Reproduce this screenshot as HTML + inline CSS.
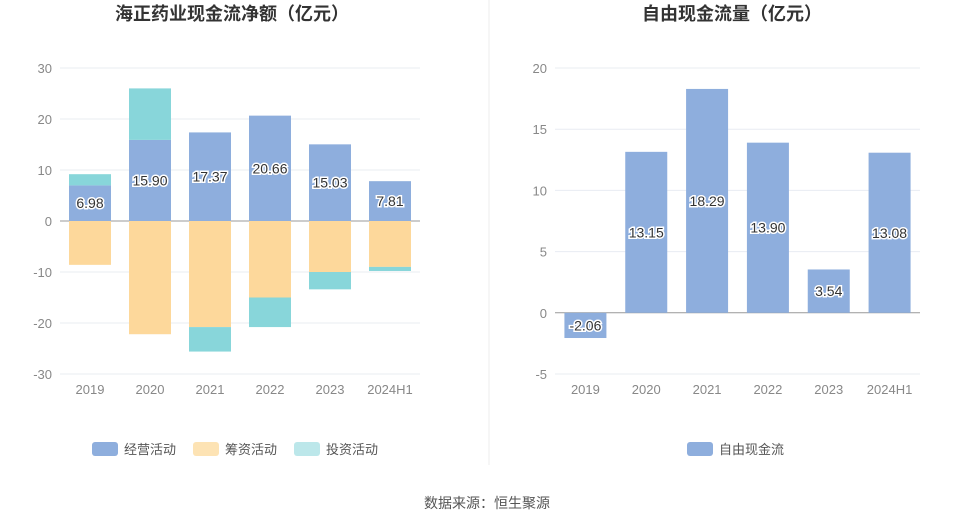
<!DOCTYPE html>
<html><head><meta charset="utf-8">
<style>
body{margin:0;background:#fff;font-family:"Liberation Sans","Noto Sans CJK SC",sans-serif;}
svg text{font-family:"Liberation Sans","Noto Sans CJK SC",sans-serif;}
</style></head>
<body>
<svg id="c" width="975" height="525">
<line x1="489" y1="0" x2="489" y2="465" stroke="#eee"/>
<text x="232" y="20" text-anchor="middle" font-size="18" font-weight="bold" fill="#333">海正药业现金流净额（亿元）</text>
<text x="732" y="20" text-anchor="middle" font-size="18" font-weight="bold" fill="#333">自由现金流量（亿元）</text>
<text x="487" y="508" text-anchor="middle" font-size="14" fill="#555">数据来源：恒生聚源</text>
<g id="L"></g><g id="R"></g>
<g>
<rect x="92" y="442" width="26" height="14" rx="3" fill="#8eaedd"/>
<text x="124" y="454" font-size="13" fill="#555">经营活动</text>
<rect x="193" y="442" width="26" height="14" rx="3" fill="#fde3b4"/>
<text x="225" y="454" font-size="13" fill="#555">筹资活动</text>
<rect x="294" y="442" width="26" height="14" rx="3" fill="#bce7ea"/>
<text x="326" y="454" font-size="13" fill="#555">投资活动</text>
</g>
<g>
<rect x="687" y="442" width="26" height="14" rx="3" fill="#8eaedd"/>
<text x="719" y="454" font-size="13" fill="#555">自由现金流</text>
</g>
</svg>
<script>
const categories=["2019","2020","2021","2022","2023","2024H1"];
const operating=[6.98,15.90,17.37,20.66,15.03,7.81];
const financing=[-8.6,-22.2,-20.8,-15.0,-10.0,-9.0];
const investing=[2.2,10.1,-4.8,-5.8,-3.4,-0.8];
const leftTicks=[-30,-20,-10,0,10,20,30];
const fcf=[-2.06,13.15,18.29,13.90,3.54,13.08];
const rightTicks=[-5,0,5,10,15,20];
const NS="http://www.w3.org/2000/svg";
function mk(p,tag,a,name,txt){const e=document.createElementNS(NS,tag);for(const k in a)e.setAttribute(k,a[k]);


if(txt!==undefined)e.textContent=txt;p.appendChild(e);return e;}
function axis(g,x0,x1,yTop,yBot,tmin,tmax,ticks,pre){
 const y=v=>yTop+(tmax-v)/(tmax-tmin)*(yBot-yTop);
 ticks.forEach(t=>{mk(g,'line',{x1:x0,x2:x1,y1:y(t),y2:y(t),stroke:t===0?'#999':'#e8ecf2'},pre+'-grid-'+t);
 mk(g,'text',{x:x0-8,y:y(t)+5,'text-anchor':'end','font-size':13,fill:'#888'},pre+'-ytick-'+t,String(t));});
 const bw=(x1-x0)/categories.length;const x=i=>x0+bw*(i+0.5);
 categories.forEach((c,i)=>mk(g,'text',{x:x(i),y:yBot+20,'text-anchor':'middle','font-size':13,fill:'#888'},pre+'-xtick-'+c,c));
 return {x,y,bw};}
const L=document.getElementById('L');
const a=axis(L,60,420,68,374,-30,30,leftTicks,'left');
const W=42;
categories.forEach((c,i)=>{
 const x=a.x(i)-W/2;
 mk(L,'rect',{x,y:a.y(operating[i]),width:W,height:a.y(0)-a.y(operating[i]),fill:'#8eaedd'},'bar-operating-'+c);
 mk(L,'rect',{x,y:a.y(0),width:W,height:a.y(financing[i])-a.y(0),fill:'#fdd89b'},'bar-financing-'+c);
 const base=investing[i]>=0?operating[i]:financing[i];const top=base+investing[i];
 mk(L,'rect',{x,y:a.y(Math.max(base,top)),width:W,height:Math.abs(a.y(top)-a.y(base)),fill:'#88d6da'},'bar-investing-'+c);
 mk(L,'text',{x:a.x(i),y:a.y(operating[i]/2)+5,'text-anchor':'middle','font-size':14,fill:'#333',stroke:'#fff','stroke-width':3,'paint-order':'stroke'},'label-operating-'+c,operating[i].toFixed(2));
});
const R=document.getElementById('R');
const b=axis(R,555,920,68,374,-5,20,rightTicks,'right');
categories.forEach((c,i)=>{
 const x=b.x(i)-W/2,v=fcf[i];
 mk(R,'rect',{x,y:b.y(Math.max(v,0)),width:W,height:Math.abs(b.y(v)-b.y(0)),fill:'#8eaedd'},'bar-fcf-'+c);
 mk(R,'text',{x:b.x(i),y:b.y(v/2)+5,'text-anchor':'middle','font-size':14,fill:'#333',stroke:'#fff','stroke-width':3,'paint-order':'stroke'},'label-fcf-'+c,v.toFixed(2));
});
</script>
</body></html>
